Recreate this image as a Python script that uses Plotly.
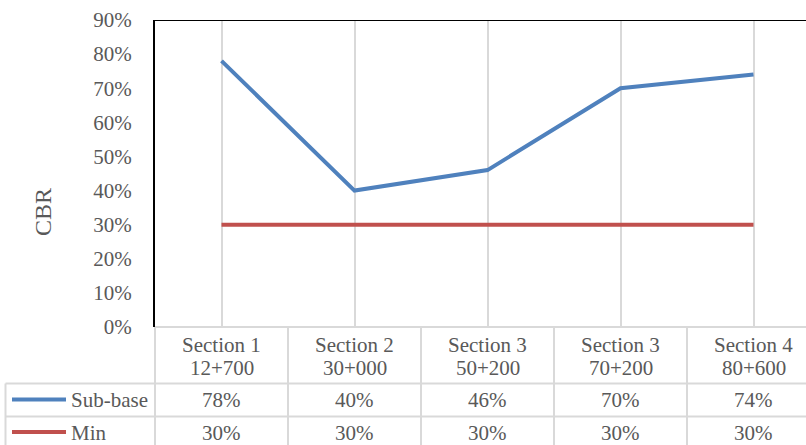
import plotly.graph_objects as go

categories = ["Section 1<br>12+700", "Section 2<br>30+000", "Section 3<br>50+200",
              "Section 3<br>70+200", "Section 4<br>80+600"]
sub_base = [0.78, 0.40, 0.46, 0.70, 0.74]
min_cbr = [0.30, 0.30, 0.30, 0.30, 0.30]
series_names = ["Sub-base", "Min"]
y_ticks = [0, 0.1, 0.2, 0.3, 0.4, 0.5, 0.6, 0.7, 0.8, 0.9]

W, H = 806, 445
L, R, T, B = 155, 0, 20, 118
PW, PH = W - L - R, H - T - B
COLW = 133.0

def px(x):
    return (x - L) / PW

def py(y):
    return (H - B - y) / PH

BLUE = "#4F81BD"
RED = "#C0504D"
GRID = "#D9D9D9"
TXT = "#595959"
FONT = "Liberation Serif, Times New Roman, serif"
FS = 21

idx = list(range(len(categories)))
xr_max = -0.5 + PW / COLW

fig = go.Figure()
fig.add_trace(go.Scatter(x=idx, y=sub_base, mode="lines", name=series_names[0],
                         line=dict(color=BLUE, width=4), hoverinfo="skip"))
fig.add_trace(go.Scatter(x=idx, y=min_cbr, mode="lines", name=series_names[1],
                         line=dict(color=RED, width=4), hoverinfo="skip"))

shapes = []
shapes.append(dict(type="line", xref="paper", yref="y", x0=0, x1=1, y0=0.9, y1=0.9,
                   line=dict(color="black", width=2), layer="above"))
for yy, x0 in [(327, 155), (383.5, 5.5), (416.5, 5.5)]:
    shapes.append(dict(type="line", xref="paper", yref="paper", x0=px(x0), x1=1.0,
                       y0=py(yy), y1=py(yy), line=dict(color=GRID, width=2)))
for i in range(1, len(categories)):
    shapes.append(dict(type="line", xref="x", yref="paper", x0=i - 0.5, x1=i - 0.5,
                       y0=py(327), y1=py(H + 5), line=dict(color=GRID, width=2)))
shapes.append(dict(type="line", xref="paper", yref="paper", x0=0, x1=0,
                   y0=py(327), y1=py(H + 5), line=dict(color=GRID, width=2)))
shapes.append(dict(type="line", xref="paper", yref="paper", x0=px(5.5), x1=px(5.5),
                   y0=py(383.5), y1=py(H + 5), line=dict(color=GRID, width=2)))
for yy, col in [(399.5, BLUE), (432, RED)]:
    shapes.append(dict(type="line", xref="paper", yref="paper", x0=px(12), x1=px(66),
                       y0=py(yy), y1=py(yy), line=dict(color=col, width=4)))

tf = dict(family=FONT, size=FS, color=TXT)
annotations = []
for i, c in enumerate(categories):
    top, bot = c.split("<br>")
    annotations.append(dict(x=i, xref="x", y=py(345), yref="paper", text=top, showarrow=False,
                            font=tf, xanchor="center", yanchor="middle"))
    annotations.append(dict(x=i, xref="x", y=py(368), yref="paper", text=bot, showarrow=False,
                            font=tf, xanchor="center", yanchor="middle"))
    annotations.append(dict(x=i, xref="x", y=py(400), yref="paper",
                            text=f"{round(sub_base[i]*100)}%", showarrow=False,
                            font=tf, xanchor="center", yanchor="middle"))
    annotations.append(dict(x=i, xref="x", y=py(433), yref="paper",
                            text=f"{round(min_cbr[i]*100)}%", showarrow=False,
                            font=tf, xanchor="center", yanchor="middle"))
for yy, name in [(400, series_names[0]), (433, series_names[1])]:
    annotations.append(dict(x=px(69), xref="paper", y=py(yy), yref="paper", text=name,
                            showarrow=False, font=tf, xanchor="left", yanchor="middle"))
annotations.append(dict(x=px(43), xref="paper", y=py(212), yref="paper", text="CBR",
                        textangle=-90, showarrow=False,
                        font=dict(family=FONT, size=24, color=TXT),
                        xanchor="center", yanchor="middle"))

fig.update_layout(
    width=W, height=H, margin=dict(l=L, r=R, t=T, b=B, pad=0),
    paper_bgcolor="white", plot_bgcolor="white", showlegend=False,
    shapes=shapes, annotations=annotations,
    xaxis=dict(range=[-0.5, xr_max], showticklabels=False, showgrid=True,
               gridcolor=GRID, gridwidth=1.5, zeroline=False, showline=False,
               tickmode="array", tickvals=idx, ticks=""),
    yaxis=dict(range=[0, 0.9], tickvals=y_ticks, tickformat=".0%", showgrid=False,
               zeroline=False, showline=True, linecolor="black", linewidth=2,
               ticks="", ticklabelstandoff=17, tickfont=tf),
)
fig.write_html("out.html")
